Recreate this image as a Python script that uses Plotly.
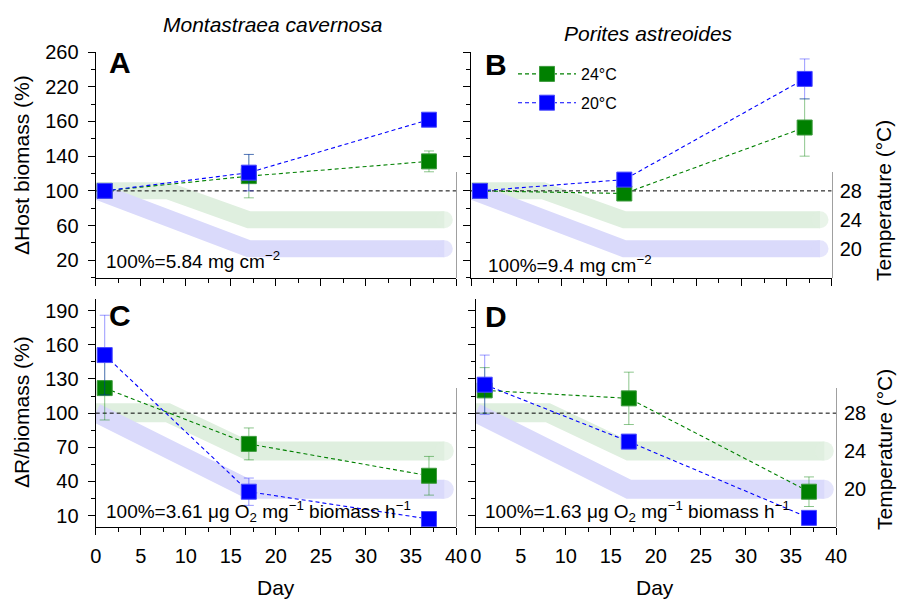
import plotly.graph_objects as go

W, H = 897, 600
FONT = "Liberation Sans, Arial, sans-serif"

# ---------------- data ----------------
days = [1, 17, 37]

# Delta host biomass (%) - Montastraea cavernosa
host_mc_24 = [100, 117, 134]
host_mc_24_err = [0, 25, 12]
host_mc_20 = [100, 121, 182]
host_mc_20_err = [0, 21, 3]
# Delta host biomass (%) - Porites astreoides
host_pa_24 = [100, 97, 173]
host_pa_24_err = [0, 3, 33]
host_pa_20 = [100, 113, 229]
host_pa_20_err = [0, 3, 23]
# Delta R/biomass (%) - Montastraea cavernosa
resp_mc_24 = [122, 73, 45]
resp_mc_24_err = [28, 14, 17]
resp_mc_20 = [151, 31, 7]
resp_mc_20_err = [35, 12, 3]
# Delta R/biomass (%) - Porites astreoides
resp_pa_24 = [120, 113, 31]
resp_pa_24_err = [20, 23, 13]
resp_pa_20 = [125, 75, 8]
resp_pa_20_err = [26, 3, 3]

# temperature profiles (deg C)
temp_days_24 = [0, 8, 17, 38.7]
temp_24 = [28, 28, 24, 24]
temp_days_20 = [0, 17, 38.7]
temp_20 = [28, 20, 20]

reference_level = 100
day_range = [0, 40]

host_ticks = [20, 60, 100, 140, 180, 220, 260]
host_ticktext = ["20", "60", "100", "140", "160", "220", "260"]
resp_ticks = [10, 40, 70, 100, 130, 160, 190]
temp_ticks = [20, 24, 28]

series_names = ["24°C", "20°C"]

# ---------------- styles ----------------
GREEN = "#008000"
BLUE = "#0000FF"
GREEN_BAND = "#DFEFDF"
BLUE_BAND = "#DADAFB"
GREEN_ERR = "rgba(0,128,0,0.45)"
BLUE_ERR = "rgba(0,0,255,0.40)"


def px(x):
    return x / W


def py(y):
    return 1 - y / H


panels = [
    dict(xa="x", ya="y5", ta="y", xdom=[px(95.7), px(456)], ydom=[py(277.7), py(52)],
         tdom=[py(277.7), py(172)], trange=[16.0, 30.58], yrange=[0, 260],
         s24=(host_mc_24, host_mc_24_err), s20=(host_mc_20, host_mc_20_err),
         band=17, ylabels=True, xlabels=False, tlabels=False, kind="host"),
    dict(xa="x2", ya="y6", ta="y2", xdom=[px(471), px(831.7)], ydom=[py(277.7), py(52)],
         tdom=[py(277.7), py(172)], trange=[16.0, 30.58], yrange=[0, 260],
         s24=(host_pa_24, host_pa_24_err), s20=(host_pa_20, host_pa_20_err),
         band=17, ylabels=False, xlabels=False, tlabels=True, kind="host"),
    dict(xa="x3", ya="y7", ta="y3", xdom=[px(95.7), px(456)], ydom=[py(527), py(299.3)],
         tdom=[py(527), py(388.3)], trange=[16.07, 30.55], yrange=[0, 200],
         s24=(resp_mc_24, resp_mc_24_err), s20=(resp_mc_20, resp_mc_20_err),
         band=19, ylabels=True, xlabels=True, tlabels=False, kind="resp"),
    dict(xa="x4", ya="y8", ta="y4", xdom=[px(475.7), px(836)], ydom=[py(527), py(299.3)],
         tdom=[py(527), py(388.3)], trange=[16.07, 30.55], yrange=[0, 200],
         s24=(resp_pa_24, resp_pa_24_err), s20=(resp_pa_20, resp_pa_20_err),
         band=19, ylabels=False, xlabels=True, tlabels=True, kind="resp"),
]

fig = go.Figure()

# temperature bands first (drawn beneath everything)
for p in panels:
    for tx, ty, col in [(temp_days_24, temp_24, GREEN_BAND), (temp_days_20, temp_20, BLUE_BAND)]:
        sizes = [0] * (len(tx) - 1) + [p["band"]]
        fig.add_trace(go.Scatter(
            x=tx, y=ty, xaxis=p["xa"], yaxis=p["ta"], mode="lines+markers",
            line=dict(color=col, width=p["band"]),
            marker=dict(color=col, size=sizes, symbol="circle", line=dict(width=0)),
            showlegend=False, hoverinfo="skip", cliponaxis=True))

# reference lines (100 %)
for p in panels:
    fig.add_trace(go.Scatter(
        x=day_range, y=[reference_level, reference_level], xaxis=p["xa"], yaxis=p["ya"],
        mode="lines", line=dict(color="black", width=1, dash="4px,3px"),
        showlegend=False, hoverinfo="skip"))

# data
for i, p in enumerate(panels):
    for (vals, errs), col, ecol, name, lcol in [
        (p["s24"], GREEN, GREEN_ERR, series_names[0], "#3C9A3C"),
        (p["s20"], BLUE, BLUE_ERR, series_names[1], "#4A4AFF"),
    ]:
        fig.add_trace(go.Scatter(
            x=days, y=vals, xaxis=p["xa"], yaxis=p["ya"], mode="lines+markers",
            name=name, legendgroup=name, showlegend=(i == 0),
            line=dict(color=col, width=1.1, dash="4px,3px"),
            marker=dict(symbol="square", size=15, color=col, line=dict(color=lcol, width=1)),
            error_y=dict(type="data", array=errs, visible=True, color=ecol,
                         thickness=1, width=5),
            cliponaxis=False))

layout = dict(
    width=W, height=H, margin=dict(l=0, r=0, t=0, b=0),
    paper_bgcolor="white", plot_bgcolor="rgba(0,0,0,0)",
    font=dict(family=FONT, size=20, color="black"),
    showlegend=True,
    legend=dict(x=px(513), y=py(57), xanchor="left", yanchor="top",
                bgcolor="rgba(0,0,0,0)", borderwidth=0,
                font=dict(size=16, family=FONT), traceorder="grouped",
                tracegroupgap=5, itemwidth=58),
)

for p in panels:
    xk = "xaxis" + p["xa"][1:]
    yk = "yaxis" + p["ya"][1:]
    tk = "yaxis" + p["ta"][1:]
    layout[xk] = dict(
        domain=p["xdom"], anchor=p["ya"], range=day_range,
        tickmode="linear", tick0=0, dtick=5, ticks="outside", ticklen=7,
        tickwidth=1.3, tickcolor="black",
        minor=dict(tickmode="linear", tick0=0, dtick=2.5, ticks="outside",
                   ticklen=4, tickwidth=1.3, tickcolor="black", showgrid=False),
        showline=True, linecolor="black", linewidth=1.3, showgrid=False,
        zeroline=False, showticklabels=p["xlabels"], tickfont=dict(size=20),
        ticklabelstandoff=4, automargin=False, fixedrange=True)
    if p["kind"] == "host":
        ytick = dict(tickmode="array", tickvals=host_ticks, ticktext=host_ticktext,
                     minor=dict(tickmode="linear", tick0=0, dtick=20, ticks="outside",
                                ticklen=4, tickwidth=1.3, tickcolor="black", showgrid=False))
    else:
        ytick = dict(tickmode="array", tickvals=resp_ticks,
                     minor=dict(tickmode="linear", tick0=10, dtick=15, ticks="outside",
                                ticklen=4, tickwidth=1.3, tickcolor="black", showgrid=False))
    layout[yk] = dict(
        domain=p["ydom"], anchor=p["xa"], range=p["yrange"], ticks="outside",
        ticklen=7, tickwidth=1.3, tickcolor="black", showline=True,
        linecolor="black", linewidth=1.3, showgrid=False, zeroline=False,
        showticklabels=p["ylabels"], tickfont=dict(size=20), ticklabelstandoff=5,
        automargin=False, fixedrange=True, **ytick)
    layout[tk] = dict(
        domain=p["tdom"], anchor=p["xa"], side="right", range=p["trange"],
        tickmode="array", tickvals=temp_ticks, ticks="", showline=True,
        linecolor="#A0A0A0", linewidth=1, showgrid=False, zeroline=False,
        showticklabels=p["tlabels"], tickfont=dict(size=20), ticklabelstandoff=3,
        automargin=False, fixedrange=True)

fig.update_layout(**layout)


def ann(text, x, y, size=20, angle=0, xanchor="center", yanchor="middle"):
    fig.add_annotation(text=text, x=px(x), y=py(y), xref="paper", yref="paper",
                       showarrow=False, textangle=angle, xanchor=xanchor, yanchor=yanchor,
                       font=dict(size=size, family=FONT, color="black"))


ann("<i>Montastraea cavernosa</i>", 272, 25, size=21)
ann("<i>Porites astreoides</i>", 648, 33, size=21)
ann("<b>A</b>", 120, 63, size=30)
ann("<b>B</b>", 496, 64, size=30)
ann("<b>C</b>", 120, 316, size=30)
ann("<b>D</b>", 496, 316.5, size=30)
ann("ΔHost biomass (%)", 21, 165, size=21, angle=-90)
ann("ΔR/biomass (%)", 21, 412, size=21, angle=-90)
ann("Temperature (°C)", 884, 201, size=21, angle=-90)
ann("Temperature (°C)", 884, 450, size=21, angle=-90)
ann("Day", 276, 587, size=21)
ann("Day", 655, 587, size=21)
ann("100%=5.84 mg cm<sup>−2</sup>", 104, 260, size=19, xanchor="left")
ann("100%=9.4 mg cm<sup>−2</sup>", 486, 264, size=19, xanchor="left")
ann("100%=3.61 μg O<sub>2</sub> mg<sup>−1</sup> biomass h<sup>−1</sup>", 104, 511, size=19, xanchor="left")
ann("100%=1.63 μg O<sub>2</sub> mg<sup>−1</sup> biomass h<sup>−1</sup>", 483, 511, size=19, xanchor="left")

fig.write_html("out.html")
